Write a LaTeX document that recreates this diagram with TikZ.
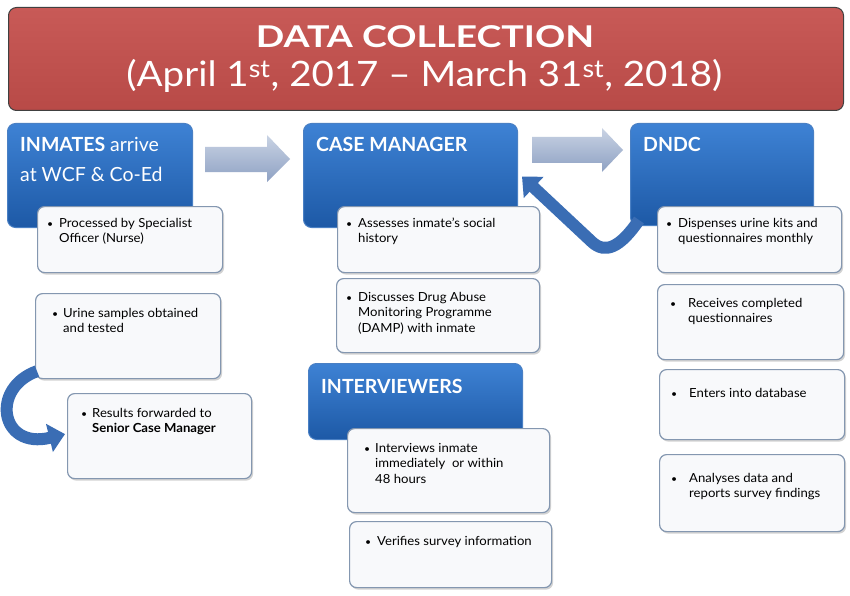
\documentclass[tikz,border=0pt]{standalone}
\usepackage{fontspec}
\setmainfont{Lato}
\newfontfamily\titleAfont[FakeStretch=1.25]{Lato}
\newfontfamily\titleBfont[FakeStretch=1.1]{Lato}
\newfontfamily\bodyfont[FakeStretch=1.05]{Lato}
\usetikzlibrary{shadows,arrows.meta,calc}
\definecolor{titlered}{HTML}{C0504D}
\definecolor{titletop}{HTML}{C85A57}
\definecolor{titlebot}{HTML}{B84A47}
\definecolor{bluetop}{HTML}{3E82D4}
\definecolor{bluebot}{HTML}{1D59A6}
\definecolor{blueedge}{HTML}{4A80C4}
\definecolor{subfill}{HTML}{F8F9FB}
\definecolor{subedge}{HTML}{8497B0}
\definecolor{arrtop}{HTML}{C9D3E4}
\definecolor{arrbot}{HTML}{8EA1C3}
\definecolor{curvblue}{HTML}{3A6DB4}
\newcommand\bul[2]{\makebox[#1pt][l]{\hspace{-2pt}{\fontsize{10}{10}\selectfont\textbullet}}\begin{tabular}[t]{@{}l@{}}#2\end{tabular}}
\tikzset{
  titlebox/.style={rectangle, rounded corners=8, top color=titletop, bottom color=titlebot, draw=black!75, line width=1, inner sep=0},
  bluebox/.style={rectangle, rounded corners=8, top color=bluetop, bottom color=bluebot, draw=blueedge, line width=1, inner sep=0, anchor=north west},
  subbox/.style={rectangle, rounded corners=7, fill=subfill, draw=subedge, line width=1.2, inner sep=0, anchor=north west,
    drop shadow={opacity=0.35, shadow xshift=1.5pt, shadow yshift=-2pt}},
  head/.style={inner sep=0, anchor=base west, text=white, font=\fontsize{19.5}{30}\selectfont},
  body/.style={inner sep=0, anchor=base west, text=black, font=\bodyfont\fontsize{12.5}{15.5}\selectfont},
  curvarrow/.style={draw=curvblue, line width=12, -{Triangle[length=16pt, width=28pt]}},
  grayarrow/.style={top color=arrtop, bottom color=arrbot, draw=none}
}
\begin{document}
\begin{tikzpicture}[x=1pt,y=-1pt]
\useasboundingbox[fill=white] (0,0) rectangle (850,596);

% title
\node[titlebox, minimum width=835, minimum height=103, anchor=north west] (title) at (8,7) {};
\node[inner sep=0, anchor=base, text=white, font=\titleAfont\fontsize{30}{32}\selectfont\bfseries] (t1) at (425,48) {DATA COLLECTION};
\node[inner sep=0, anchor=base, text=white, font=\titleBfont\fontsize{35}{37}\selectfont] (t2) at (424.5,87) {(April 1\textsuperscript{st}, 2017 – March 31\textsuperscript{st}, 2018)};

% gray arrows
\shade[grayarrow] (205,147) -- (267,147) -- (267,135) -- (290,159) -- (267,182) -- (267,172) -- (205,172) -- cycle;
\shade[grayarrow] (532,137) -- (602,137) -- (602,128) -- (623,150) -- (602,172) -- (602,163) -- (532,163) -- cycle;

% left column
\node[bluebox, minimum width=185, minimum height=104] (inm) at (7,123) {};
\node[head] (inmt) at (20,152) {\begin{tabular}[t]{@{}l@{}}\textbf{INMATES} arrive\\at WCF \& Co-Ed\end{tabular}};
\node[subbox, minimum width=185, minimum height=66] (proc) at (37,206) {};
\node[body] (proct) at (49,227) {\bul{10}{Processed by Specialist\\Officer (Nurse)}};
\node[subbox, minimum width=185, minimum height=85] (urine) at (35,293) {};
\node[body] (urinet) at (54,317) {\bul{9}{Urine samples obtained\\and tested}};
\node[subbox, minimum width=184, minimum height=85] (res) at (67,393) {};
\node[body] (rest) at (83,417) {\bul{9}{Results forwarded to\\\textbf{Senior Case Manager}}};
\coordinate (ua) at ($(urine.south west)+(2,-8)$);
\coordinate (ra) at ($(res.west)+(-2,-2)$);
\draw[curvarrow] (ua) .. controls (-10,388) and (0,450) .. (ra);

% center column
\node[bluebox, minimum width=214, minimum height=104] (cm) at (303,123) {};
\node[head, font=\fontsize{19.5}{30}\selectfont\bfseries] (cmt) at (316,152) {CASE MANAGER};
\node[subbox, minimum width=202, minimum height=66] (ass) at (337,206) {};
\node[body] (asst) at (348,227) {\bul{10}{Assesses inmate’s social\\history}};
\node[subbox, minimum width=203, minimum height=74] (dis) at (336,278) {};
\node[body] (dist) at (348,301) {\bul{10}{Discusses Drug Abuse\\Monitoring Programme\\(DAMP) with inmate}};
\node[bluebox, minimum width=214, minimum height=76] (intv) at (308,363) {};
\node[head, font=\fontsize{19.5}{30}\selectfont\bfseries] (intvt) at (321,393) {INTERVIEWERS};
\node[subbox, minimum width=202, minimum height=84] (inter) at (347,428) {};
\node[body] (intert) at (366,452) {\bul{9}{Interviews inmate\\immediately\ \ or within\\48 hours}};
\node[subbox, minimum width=202, minimum height=66] (ver) at (349,521) {};
\node[body] (vert) at (367,545) {\bul{10}{Verifies survey information}};

% right column
\node[bluebox, minimum width=183, minimum height=102] (dndc) at (630,123) {};
\node[head, font=\fontsize{19.5}{30}\selectfont\bfseries] (dndct) at (643,152) {DNDC};
\coordinate (da) at ($(dndc.south west)+(9,-6)$);
\coordinate (ca) at ($(cm.east)+(4,1)$);
\draw[curvarrow] (da) .. controls (620,248) and (605,254) .. (592,242) -- (ca);
\node[subbox, minimum width=184, minimum height=66] (disp) at (657,206) {};
\node[body] (dispt) at (668,227) {\bul{10}{Dispenses urine kits and\\questionnaires monthly}};
\node[subbox, minimum width=186, minimum height=75] (rec) at (657,284) {};
\node[body] (rect) at (672,307) {\bul{16}{Receives completed\\questionnaires}};
\node[subbox, minimum width=185, minimum height=70] (ent) at (659,369) {};
\node[body] (entt) at (673,397) {\bul{16}{Enters into database}};
\node[subbox, minimum width=185, minimum height=77] (ana) at (659,454) {};
\node[body] (anat) at (673,482) {\bul{16}{Analyses data and\\reports survey findings}};
\end{tikzpicture}
\end{document}
